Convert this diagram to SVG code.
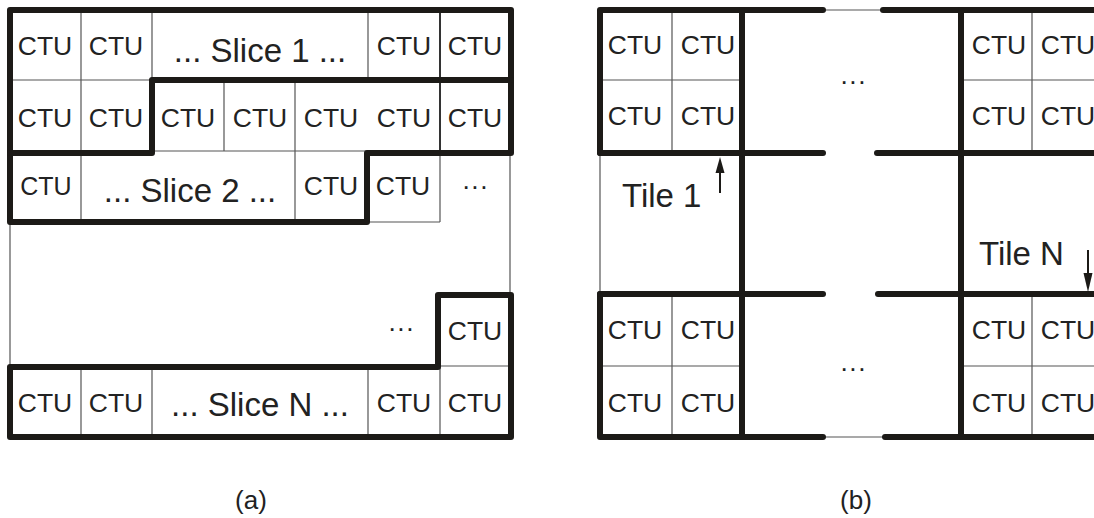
<svg xmlns="http://www.w3.org/2000/svg" width="1094" height="518" viewBox="0 0 1094 518">
<defs>
<style>
.thick{fill:none;stroke:#1c1a17;stroke-width:6;stroke-linecap:round;stroke-linejoin:round}
.thin{fill:none;stroke:#555;stroke-width:1.2}
.mid{fill:none;stroke:#333;stroke-width:2}
.t{font-family:"Liberation Sans",Arial,sans-serif;fill:#222}
.ctu{font-size:26.5px;text-anchor:middle}
.big{font-size:33px;text-anchor:middle}
.lab{font-size:26px;text-anchor:middle}
</style>
</defs>
<rect width="1094" height="518" fill="#fff"/>

<g id="panel-a">
 <g id="slice1">
  <path class="thin" d="M10,80 H152 M81,10 V222 M152,10 V80 M368,10 V80 M224,80 V151 M295,80 V222 M152,151 H367"/>
  <path class="mid" d="M440,10 V153"/>
  <text class="t ctu" x="45" y="55">CTU</text>
  <text class="t ctu" x="116" y="55">CTU</text>
  <text class="t big" x="260" y="62">... Slice 1 ...</text>
  <text class="t ctu" x="404" y="55">CTU</text>
  <text class="t ctu" x="475" y="55">CTU</text>
  <text class="t ctu" x="45" y="127">CTU</text>
  <text class="t ctu" x="116" y="127">CTU</text>
  <text class="t ctu" x="188" y="127">CTU</text>
  <text class="t ctu" x="260" y="127">CTU</text>
  <text class="t ctu" x="331" y="127">CTU</text>
  <text class="t ctu" x="404" y="127">CTU</text>
  <text class="t ctu" x="475" y="127">CTU</text>
 </g>
 <g id="slice2">
  <path class="thin" d="M440,153 V222 M367,222 H440 M510,153 V295 M10,222 V367"/>
  <text class="t ctu" x="46" y="195" style="font-size:25px">CTU</text>
  <text class="t big" x="190" y="202">... Slice 2 ...</text>
  <text class="t ctu" x="331" y="195">CTU</text>
  <text class="t ctu" x="403" y="195">CTU</text>
  <text class="t ctu" x="475" y="195">···</text>
 </g>
 <g id="sliceN">
  <path class="thin" d="M81,367 V437 M152,367 V437 M368,367 V437 M440,367 V437 M440,366 H511"/>
  <text class="t ctu" x="401" y="337">···</text>
  <text class="t ctu" x="475" y="340">CTU</text>
  <text class="t ctu" x="45" y="412">CTU</text>
  <text class="t ctu" x="116" y="412">CTU</text>
  <text class="t big" x="260" y="416">... Slice N ...</text>
  <text class="t ctu" x="404" y="412">CTU</text>
  <text class="t ctu" x="475" y="412">CTU</text>
 </g>
 <g id="a-borders">
  <path class="thick" d="M10,222 V10 H511 V153 H367 V222 Z"/>
  <path class="thick" d="M10,153 H152 V80 H511"/>
  <path class="thick" d="M10,367 H438 V295 H511 V437 H10 Z"/>
 </g>
 <text class="t lab" x="251" y="509">(a)</text>
</g>

<g id="panel-b">
 <g id="tile1">
  <path class="thin" d="M672,10 V153 M600,80 H742 M600,153 V294"/>
  <text class="t ctu" x="635" y="54">CTU</text>
  <text class="t ctu" x="708" y="54">CTU</text>
  <text class="t ctu" x="635" y="125">CTU</text>
  <text class="t ctu" x="708" y="125">CTU</text>
  <text class="t" x="622" y="207" style="font-size:33px">Tile 1</text>
 </g>
 <g id="tile-top-right">
  <path class="thin" d="M1032,10 V153 M961,80 H1094"/>
  <text class="t ctu" x="999" y="54">CTU</text>
  <text class="t ctu" x="1068" y="54">CTU</text>
  <text class="t ctu" x="999" y="125">CTU</text>
  <text class="t ctu" x="1068" y="125">CTU</text>
 </g>
 <g id="tile-bottom-left">
  <path class="thin" d="M672,294 V437 M600,366 H742"/>
  <text class="t ctu" x="635" y="339">CTU</text>
  <text class="t ctu" x="708" y="339">CTU</text>
  <text class="t ctu" x="635" y="412">CTU</text>
  <text class="t ctu" x="708" y="412">CTU</text>
 </g>
 <g id="tileN">
  <path class="thin" d="M1032,294 V437 M961,366 H1094"/>
  <text class="t" x="979" y="265" style="font-size:33px">Tile N</text>
  <text class="t ctu" x="999" y="339">CTU</text>
  <text class="t ctu" x="1068" y="339">CTU</text>
  <text class="t ctu" x="999" y="412">CTU</text>
  <text class="t ctu" x="1068" y="412">CTU</text>
 </g>
 <text class="t ctu" x="853" y="90">···</text>
 <text class="t ctu" x="853" y="377">···</text>
 <g id="b-borders">
  <path class="thin" d="M823,10 H883 M823,437 H885"/>
  <path class="thick" d="M600,153 V10 H823"/>
  <path class="thick" d="M600,153 H823"/>
  <path class="thick" d="M742,10 V437"/>
  <path class="thick" d="M600,294 V437 H823"/>
  <path class="thick" d="M600,294 H823"/>
  <path class="thick" d="M883,10 H1100"/>
  <path class="thick" d="M877,153 H1100"/>
  <path class="thick" d="M961,10 V437"/>
  <path class="thick" d="M878,294 H1100"/>
  <path class="thick" d="M885,437 H1100"/>
 </g>
 <text class="t lab" x="856" y="509">(b)</text>
</g>

<g id="connectors">
 <path d="M720,193 V170" stroke="#1c1a17" stroke-width="2" fill="none"/>
 <polygon points="720,157 715.5,173 724.5,173" fill="#1c1a17"/>
 <path d="M1088,250 V275" stroke="#1c1a17" stroke-width="2" fill="none"/>
 <polygon points="1088,292 1083.5,273 1092.5,273" fill="#1c1a17"/>
</g>
</svg>
